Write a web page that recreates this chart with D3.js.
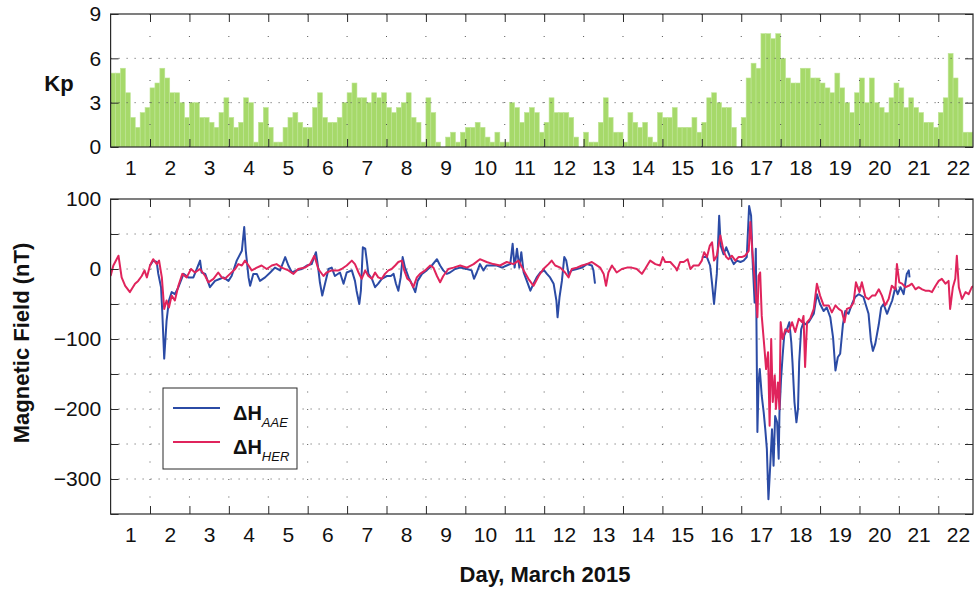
<!DOCTYPE html>
<html><head><meta charset="utf-8">
<script src="https://cdn.jsdelivr.net/npm/d3@7"></script>
<style>
body{margin:0;background:#fff;}
svg{display:block;font-family:"Liberation Sans",Arial,Helvetica,sans-serif;}
</style></head><body>
<svg id="chart" width="974" height="589"></svg>
<script>
// ---------- DATA ----------
const dayLabels = ["1","2","3","4","5","6","7","8","9","10","11","12","13","14","15","16","17","18","19","20","21","22"];
const kpTicks = [0, 3, 6, 9];
const fieldTicks = [-350, -300, -250, -200, -150, -100, -50, 0, 50, 100];
const fieldLabels = [100, 0, -100, -200, -300];

// 3-hourly Kp, 8 per day, March 1-22 2015
const kpValues = [
  5,5,5.33,3.67,2,1.33,2.33,2.67,
  4,4.33,5.33,4.67,3.67,3.67,3,2,
  3,3,2,2,1.67,1.33,2.33,3.33,
  2,1.33,1.67,3.33,3,0.33,1.67,2.67,
  1.33,0.33,0.33,1.33,2,2.33,1.67,1.33,
  1.33,2.67,3.67,2,1.67,1.67,2,3,
  3.67,4.33,3.33,3.33,3,3.67,3.33,3.67,
  2.67,2.33,2.67,3,3.67,2,1.67,0.33,
  3.33,2.33,0.33,0,0.67,1,0.33,1,
  1.33,1.33,1.67,1.33,0.67,0.33,1,0.33,
  0.33,3,2.67,1.67,2.33,2.67,2.33,1,
  1.67,3.33,2.33,2.33,2.33,2,0.67,0,
  1,0.33,0.33,1.67,3.33,2,1,1,
  0.33,2.33,1.67,1.33,1.67,0.67,0.33,2.33,
  2,2,2.67,1.33,1.33,1.33,2,1,
  1.67,3.33,3.67,3,2.67,2.67,1.33,0,
  2,4.67,5.67,5.33,7.67,7.67,7.33,7.67,
  6,4.67,4.33,4.33,5.33,5.33,4.67,4.67,
  4.33,4,3.67,5,4,3,2.33,3.67,
  4.67,3,4.67,3,2.67,2.33,3.33,4.33,
  4,2.67,3.33,2.67,2.33,1.67,1.67,1.33,
  2.33,3.33,6.33,4.67,3.33,1,1,1
];

// [days since 1 March 00 UT, nT]
const herSeries = [
[0,-10],[0.07,5],[0.2,19],[0.28,-12],[0.37,-24],[0.49,-33],[0.62,-21],[0.7,-17],[0.79,-10],[0.86,-2],[0.92,-12],[1.0,5],[1.08,14],[1.17,7],[1.23,12],[1.3,-12],[1.36,-57],[1.42,-45],[1.48,-55],[1.55,-38],[1.63,-45],[1.72,-24],[1.82,-7],[1.93,-12],[2.04,0],[2.14,-5],[2.27,0],[2.4,-10],[2.48,-19],[2.61,-14],[2.73,-5],[2.82,-12],[2.9,-14],[3.03,-7],[3.16,0],[3.24,7],[3.33,5],[3.41,12],[3.5,5],[3.58,-2],[3.71,2],[3.83,5],[3.96,0],[4.09,5],[4.21,7],[4.34,2],[4.51,-2],[4.64,-7],[4.76,0],[4.93,2],[5.06,7],[5.17,19],[5.27,0],[5.4,-10],[5.48,-5],[5.61,-2],[5.78,-2],[5.86,0],[5.99,5],[6.12,12],[6.2,7],[6.29,-5],[6.37,-14],[6.46,-2],[6.54,-10],[6.63,-14],[6.71,-5],[6.79,-12],[6.88,-14],[6.96,-7],[7.05,-2],[7.13,0],[7.22,5],[7.3,10],[7.39,12],[7.45,-2],[7.53,-14],[7.6,-17],[7.68,-26],[7.77,-12],[7.85,-7],[7.98,-2],[8.11,5],[8.19,2],[8.28,-10],[8.36,-19],[8.44,-10],[8.57,0],[8.7,2],[8.87,5],[9.04,2],[9.21,7],[9.37,14],[9.54,10],[9.71,7],[9.88,5],[10.05,10],[10.22,7],[10.35,12],[10.48,-2],[10.6,-14],[10.73,-24],[10.86,-10],[10.98,0],[11.11,7],[11.19,12],[11.28,5],[11.41,2],[11.53,-5],[11.62,-12],[11.7,0],[11.83,2],[11.96,5],[12.08,7],[12.21,10],[12.29,7],[12.42,2],[12.51,-7],[12.57,-24],[12.63,-5],[12.72,5],[12.84,-5],[12.97,0],[13.1,2],[13.22,2],[13.35,0],[13.48,-7],[13.56,0],[13.69,12],[13.82,7],[13.94,5],[14.01,17],[14.07,10],[14.2,10],[14.33,2],[14.37,-2],[14.45,10],[14.54,10],[14.64,14],[14.71,0],[14.79,5],[14.92,5],[15.0,12],[15.06,24],[15.13,17],[15.2,33],[15.26,38],[15.31,12],[15.38,19],[15.47,48],[15.55,26],[15.62,17],[15.68,14],[15.76,19],[15.85,12],[15.93,17],[16.01,17],[16.1,19],[16.19,26],[16.23,67],[16.28,26],[16.33,-7],[16.38,-45],[16.41,-69],[16.44,-10],[16.48,-5],[16.52,-67],[16.59,-114],[16.63,-143],[16.68,-119],[16.72,-224],[16.76,-100],[16.8,-190],[16.85,-152],[16.88,-200],[16.93,-162],[16.97,-200],[17.0,-76],[17.05,-100],[17.12,-86],[17.2,-90],[17.29,-76],[17.37,-90],[17.46,-71],[17.54,-76],[17.58,-67],[17.62,-140],[17.67,-76],[17.75,-71],[17.84,-57],[17.92,-21],[18.0,-38],[18.09,-52],[18.22,-52],[18.3,-62],[18.39,-52],[18.47,-57],[18.55,-60],[18.62,-76],[18.68,-57],[18.77,-55],[18.85,-48],[18.91,-19],[19.0,-33],[19.06,-19],[19.15,-40],[19.23,-43],[19.32,-38],[19.4,-38],[19.49,-29],[19.57,-38],[19.65,-52],[19.74,-43],[19.82,-24],[19.91,-29],[19.95,7],[20.01,-19],[20.08,-21],[20.16,-26],[20.25,-24],[20.33,-21],[20.42,-29],[20.5,-26],[20.59,-29],[20.67,-31],[20.76,-31],[20.84,-33],[20.93,-24],[21.01,-17],[21.09,-14],[21.18,-21],[21.26,-17],[21.3,-57],[21.37,-26],[21.43,-14],[21.47,19],[21.52,-26],[21.6,-43],[21.69,-33],[21.77,-36],[21.85,-26],[21.91,-24]
];

const aaeSeries = [
[1.0,5],[1.08,12],[1.17,10],[1.21,-7],[1.28,-26],[1.31,-60],[1.36,-128],[1.42,-74],[1.48,-45],[1.55,-33],[1.63,-36],[1.72,-26],[1.85,-7],[1.97,-12],[2.1,-12],[2.27,12],[2.31,-5],[2.4,-7],[2.52,-26],[2.65,-17],[2.78,-14],[2.86,-12],[2.99,-17],[3.07,-10],[3.2,12],[3.33,26],[3.39,60],[3.43,26],[3.5,-12],[3.54,-24],[3.62,-7],[3.71,-7],[3.79,-17],[3.92,-12],[4.05,-5],[4.17,2],[4.3,-2],[4.43,17],[4.51,5],[4.6,-5],[4.72,-2],[4.85,0],[4.98,5],[5.1,7],[5.21,24],[5.27,0],[5.31,-19],[5.37,-38],[5.44,-21],[5.53,0],[5.61,2],[5.69,-10],[5.82,-5],[5.91,-21],[5.99,-5],[6.12,-2],[6.2,-17],[6.24,-31],[6.31,-50],[6.35,-31],[6.4,31],[6.46,29],[6.5,12],[6.54,-7],[6.63,-14],[6.71,-26],[6.79,-21],[6.88,-14],[7.01,-10],[7.11,-10],[7.18,-7],[7.24,-21],[7.3,-31],[7.36,-12],[7.41,17],[7.47,2],[7.56,-12],[7.64,-21],[7.73,-33],[7.79,-17],[7.9,-7],[8.02,-2],[8.15,5],[8.28,14],[8.36,5],[8.44,-2],[8.53,-7],[8.61,-5],[8.74,0],[8.87,2],[9.04,0],[9.16,-2],[9.22,-14],[9.29,-5],[9.37,7],[9.46,-2],[9.54,5],[9.67,5],[9.8,5],[9.93,2],[10.05,5],[10.14,7],[10.2,36],[10.25,2],[10.31,29],[10.37,2],[10.42,24],[10.48,-5],[10.56,-17],[10.65,-31],[10.73,-21],[10.81,-12],[10.9,-5],[11.0,-2],[11.07,-7],[11.15,-12],[11.24,-21],[11.31,-45],[11.34,-69],[11.39,-40],[11.45,-17],[11.51,17],[11.56,12],[11.62,-7],[11.7,-2],[11.83,0],[11.96,2],[12.08,7],[12.21,5],[12.25,-2],[12.29,-21],
[12.3,null],
[15.0,17],[15.13,17],[15.21,5],[15.26,-21],[15.31,-50],[15.38,-7],[15.44,76],[15.48,33],[15.55,21],[15.62,31],[15.72,17],[15.81,7],[15.89,12],[15.98,10],[16.06,12],[16.14,17],[16.2,90],[16.25,76],[16.29,10],[16.34,-48],[16.37,29],[16.41,-233],[16.44,-162],[16.47,-143],[16.52,-181],[16.57,-205],[16.61,-229],[16.65,-257],[16.69,-329],[16.74,-276],[16.78,-229],[16.82,-281],[16.86,-210],[16.91,-219],[16.95,-271],[16.97,-205],[17.01,-157],[17.05,-124],[17.09,-95],[17.16,-86],[17.22,-76],[17.27,-105],[17.3,-133],[17.35,-190],[17.4,-219],[17.44,-200],[17.47,-133],[17.52,-86],[17.58,-76],[17.62,-79],[17.71,-76],[17.84,-64],[17.92,-36],[18.0,-50],[18.09,-60],[18.17,-55],[18.26,-69],[18.33,-98],[18.39,-145],[18.45,-126],[18.51,-121],[18.58,-79],[18.64,-60],[18.72,-64],[18.81,-50],[18.89,-40],[18.98,-36],[19.1,-40],[19.23,-64],[19.29,-102],[19.34,-117],[19.4,-107],[19.49,-79],[19.55,-55],[19.61,-50],[19.7,-64],[19.76,-55],[19.83,-45],[19.91,-26],[19.97,-36],[20.04,-26],[20.12,-36],[20.2,-7],[20.25,-2],[20.27,-12]
];

// ---------- LAYOUT ----------
const svg = d3.select("#chart");
const left = 110.6, right = 973;
const top1 = 14, bot1 = 147, top2 = 199, bot2 = 514;
const x = d3.scaleLinear().domain([0, 21.88]).range([left, right]);
const yKp = d3.scaleLinear().domain([0, 9]).range([bot1, top1]);
const yB = d3.scaleLinear().domain([-350, 100]).range([bot2, top2]);
const dayBounds = d3.range(1, 22);
const dayMids = dayLabels.map((d, i) => i + 0.5);
const fs = 21, fsTitle = 22;
const frameCol = "#2a2a2a";
const gridCol = "#555";
const blue = "#2b4ba5", red = "#e0245c";

const defs = svg.append("defs");
defs.append("clipPath").attr("id","clipTop").append("rect")
  .attr("x", left).attr("y", top1).attr("width", right-left).attr("height", bot1-top1);
defs.append("clipPath").attr("id","clipBot").append("rect")
  .attr("x", left).attr("y", top2).attr("width", right-left).attr("height", bot2-top2);

function grid(yScale, yVals, y0, y1, vDash) {
  const g = svg.append("g").attr("stroke", gridCol).attr("stroke-width", 1).attr("fill","none");
  g.selectAll("line.v").data(dayBounds).join("line")
    .attr("x1", d => x(d)).attr("x2", d => x(d)).attr("y1", y1).attr("y2", y0)
    .attr("stroke-dasharray", vDash);
  g.selectAll("line.h").data(yVals).join("line")
    .attr("x1", left).attr("x2", right).attr("y1", d => yScale(d)).attr("y2", d => yScale(d))
    .attr("stroke-dasharray", "1,7");
}

function frameAndTicks(yScale, yTickVals, y0, y1, labelVals, fmt) {
  const tb = svg.append("g").attr("transform", `translate(0,${y0})`)
    .call(d3.axisBottom(x).tickValues(dayBounds).tickSize(-8).tickFormat(""));
  const tt = svg.append("g").attr("transform", `translate(0,${y1})`)
    .call(d3.axisTop(x).tickValues(dayBounds).tickSize(-8).tickFormat(""));
  const tr = svg.append("g").attr("transform", `translate(${right},0)`)
    .call(d3.axisRight(yScale).tickValues(yTickVals).tickSize(-8).tickFormat(""));
  const tl = svg.append("g").attr("transform", `translate(${left},0)`)
    .call(d3.axisLeft(yScale).tickValues(yTickVals).tickSize(-8).tickPadding(9.5)
      .tickFormat(d => labelVals.includes(d) ? fmt(d) : ""));
  [tb, tt, tr, tl].forEach(g => {
    g.select(".domain").remove();
    g.selectAll(".tick line").attr("stroke", frameCol).attr("stroke-width", 1);
    g.selectAll("text").attr("font-size", fs).attr("fill", "#111")
      .attr("font-family", '"Liberation Sans",Arial,sans-serif');
  });
  const lab = svg.append("g").attr("transform", `translate(0,${y0})`)
    .call(d3.axisBottom(x).tickValues(dayMids).tickSize(0).tickPadding(13)
      .tickFormat((d, i) => dayLabels[i]));
  lab.select(".domain").remove();
  lab.selectAll("text").attr("font-size", fs).attr("fill", "#111")
    .attr("font-family", '"Liberation Sans",Arial,sans-serif');
  svg.append("rect").attr("x", left).attr("y", y1).attr("width", right-left).attr("height", y0-y1)
    .attr("fill", "none").attr("stroke", frameCol).attr("stroke-width", 1.2);
}

// ---------- TOP PANEL: Kp ----------
svg.append("g").attr("clip-path","url(#clipTop)")
  .selectAll("rect").data(kpValues).join("rect")
  .attr("x", (d, i) => x(i / 8))
  .attr("width", (d, i) => x((i + 1) / 8) - x(i / 8))
  .attr("y", d => yKp(d))
  .attr("height", d => yKp(0) - yKp(d))
  .attr("fill", "#a6d96a")
  .attr("stroke", "#bfe596").attr("stroke-width", 0.6);
grid(yKp, [3, 6], bot1, top1, "1,21");
frameAndTicks(yKp, kpTicks, bot1, top1, kpTicks, d3.format("d"));
svg.append("text").attr("x", 59).attr("y", 91).attr("text-anchor","middle")
  .attr("font-weight","bold").attr("font-size", fsTitle).attr("fill","#111").text("Kp");

// ---------- BOTTOM PANEL: magnetic field ----------
grid(yB, fieldTicks.filter(d => d > -350 && d < 100), bot2, top2, "1,16.5");
const line = d3.line().defined(d => d[1] !== null).x(d => x(d[0])).y(d => yB(d[1]));
const gl = svg.append("g").attr("clip-path","url(#clipBot)");
gl.append("path").datum(aaeSeries).attr("d", line).attr("fill","none")
  .attr("stroke", blue).attr("stroke-width", 2).attr("stroke-linejoin","round");
gl.append("path").datum(herSeries).attr("d", line).attr("fill","none")
  .attr("stroke", red).attr("stroke-width", 2).attr("stroke-linejoin","round");
frameAndTicks(yB, fieldTicks, bot2, top2, fieldLabels, d3.format("d"));

svg.append("text").attr("transform", "translate(29,343) rotate(-90)").attr("text-anchor","middle")
  .attr("font-weight","bold").attr("font-size", fsTitle).attr("fill","#111").text("Magnetic Field (nT)");
svg.append("text").attr("x", 545).attr("y", 582).attr("text-anchor","middle")
  .attr("font-weight","bold").attr("font-size", fsTitle).attr("fill","#111").text("Day, March 2015");

// ---------- LEGEND ----------
const legendItems = [
  {name: "AAE", color: blue},
  {name: "HER", color: red}
];
const lg = svg.append("g");
lg.append("rect").attr("x", 163).attr("y", 388).attr("width", 134).attr("height", 81)
  .attr("fill", "#fff").attr("stroke", frameCol).attr("stroke-width", 1);
legendItems.forEach((it, i) => {
  const ly = 408 + i * 34;
  lg.append("line").attr("x1", 173).attr("x2", 220).attr("y1", ly).attr("y2", ly)
    .attr("stroke", it.color).attr("stroke-width", 2);
  const t = lg.append("text").attr("x", 233).attr("y", ly + 12).attr("fill", "#111");
  t.append("tspan").attr("font-weight","bold").attr("font-size", 20).text("ΔH");
  t.append("tspan").attr("font-style","italic").attr("font-size", 13).attr("dy", 7).text(it.name);
});
</script>
</body></html>
